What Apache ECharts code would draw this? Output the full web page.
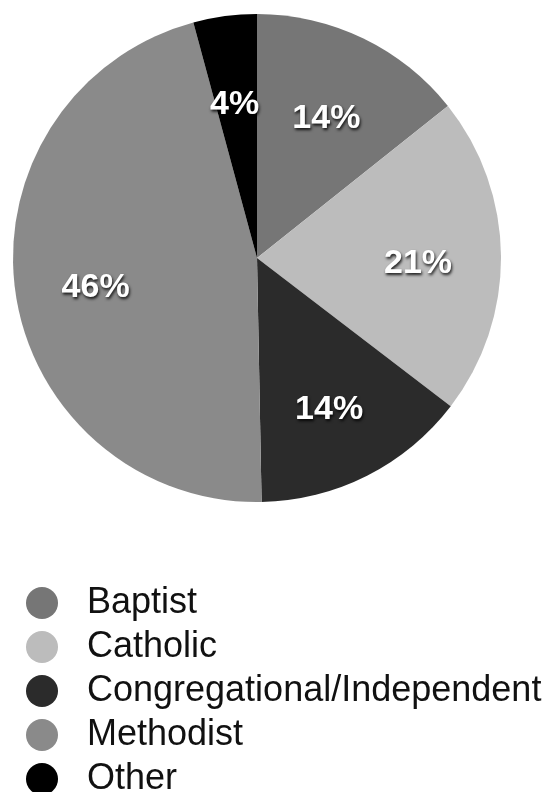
<!DOCTYPE html>
<html>
<head>
<meta charset="utf-8">
<script src="https://cdn.jsdelivr.net/npm/echarts@6/dist/echarts.min.js"></script>
<style>
html,body{margin:0;padding:0;background:#fff;}
#chart{width:548px;height:792px;}
</style>
</head>
<body>
<div id="chart"></div>
<script>
const categories = ['Baptist', 'Catholic', 'Congregational/Independent', 'Methodist', 'Other'];
const values = [14.3, 21.1, 14.3, 46.1, 4.2];
const colors = ['#767676', '#bcbcbc', '#2b2b2b', '#8a8a8a', '#000000'];

const data = categories.map((c, i) => ({ name: c, value: values[i], itemStyle: { color: colors[i] } }));

const chart = echarts.init(document.getElementById('chart'), null, { renderer: 'canvas' });
chart.setOption({
  animation: false,
  backgroundColor: '#ffffff',
  legend: {
    orient: 'vertical',
    left: 26,
    top: 585,
    height: 300,
    padding: 0,
    itemWidth: 32,
    itemHeight: 32,
    itemGap: 8,
    icon: 'circle',
    data: categories,
    textStyle: {
      fontFamily: 'Liberation Sans, Arial, sans-serif',
      fontSize: 36,
      color: '#111',
      padding: [0, 0, 0, 24]
    }
  },
  series: [
    {
      type: 'pie',
      center: [257, 258],
      radius: [0, 244],
      startAngle: 90,
      clockwise: true,
      silent: true,
      label: { show: false },
      labelLine: { show: false },
      itemStyle: { borderWidth: 0 },
      data: data
    },
    {
      type: 'pie',
      center: [257, 258],
      radius: [74, 244],
      startAngle: 90,
      clockwise: true,
      silent: true,
      itemStyle: { color: 'rgba(0,0,0,0)', borderWidth: 0 },
      label: {
        show: true,
        position: 'inside',
        offset: [-1, 7],
        formatter: p => Math.round(p.value) + '%',
        fontFamily: 'Liberation Sans, Arial, sans-serif',
        fontSize: 34,
        fontWeight: 'bold',
        color: '#ffffff',
        textShadowColor: 'rgba(0,0,0,0.85)',
        textShadowBlur: 3,
        textShadowOffsetX: 1,
        textShadowOffsetY: 2
      },
      labelLine: { show: false },
      data: categories.map((c, i) => ({ name: c, value: values[i] }))
    }
  ]
});
</script>
</body>
</html>
